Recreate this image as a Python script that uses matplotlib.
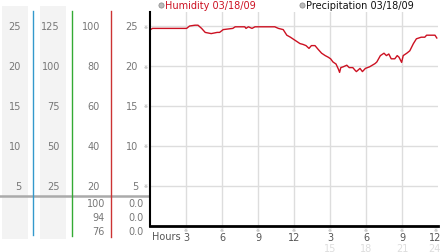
import numpy as np
import matplotlib.pyplot as plt

# humidity trace
hours = [0, 0.2, 3.05, 3.3, 3.75, 4.0, 4.3, 4.6, 5.1, 5.6, 5.8, 6.1, 6.9, 7.1, 7.9,
         8.0, 8.2, 8.5, 8.75, 10.4, 10.7, 11.1, 11.4, 11.7, 11.9, 12.2, 12.5, 12.75,
         13.0, 13.25, 13.45, 13.75, 14.0, 14.3, 14.6, 14.85, 15.05, 15.25, 15.5, 15.7,
         15.8, 15.9, 16.1, 16.4, 16.6, 16.9, 17.1, 17.2, 17.5, 17.7, 17.95, 18.3,
         18.75, 18.9, 19.2, 19.5, 19.7, 19.9, 20.1, 20.4, 20.6, 20.75, 20.97, 21.1,
         21.4, 21.65, 21.95, 22.2, 22.6, 22.9, 23.05, 23.75, 23.9]
humidity = [24.5, 24.7, 24.7, 25.0, 25.1, 25.1, 24.7, 24.2, 24.05, 24.2, 24.2, 24.55,
            24.7, 24.9, 24.9, 24.7, 24.9, 24.7, 24.9, 24.9, 24.7, 24.55, 23.85, 23.6,
            23.4, 23.1, 22.8, 22.7, 22.55, 22.2, 22.55, 22.55, 22.1, 21.6, 21.3, 21.1,
            20.9, 20.5, 20.25, 19.6, 19.2, 19.8, 19.9, 20.1, 19.8, 19.8, 19.45, 19.3,
            19.7, 19.3, 19.7, 19.9, 20.3, 20.5, 21.3, 21.6, 21.3, 21.5, 20.9, 20.9,
            21.3, 21.1, 20.45, 21.3, 21.6, 21.9, 22.8, 23.4, 23.6, 23.6, 23.85, 23.85,
            23.5]

hour_ticks = [3, 6, 9, 12, 15, 18, 21, 24]
hour_labels = ['3', '6', '9', '12', '3', '6', '9', '12']
hour_labels2 = ['', '', '', '', '15', '18', '21', '24']

scale_vals = [25, 20, 15, 10, 5]
col1 = ['25', '20', '15', '10', '5']
col2 = ['125', '100', '75', '50', '25']
col3 = ['100', '80', '60', '40', '20']
col4 = ['25', '20', '15', '10', '5']
col3_low = ['100', '94', '76']
col4_low = ['0.0', '0.0', '0.0']

W, H = 442, 253
fig = plt.figure(figsize=(W / 100, H / 100), dpi=100)
fig.patch.set_facecolor('white')

# overlay in pixel coords for the side panel
ov = fig.add_axes([0, 0, 1, 1])
ov.set_xlim(0, W)
ov.set_ylim(H, 0)
ov.axis('off')

def py(v):
    return 227 - 8 * v

txt = dict(fontsize=7, color='#777777', va='center')
ov.fill_between([2, 28], 7, 240, color='#f3f3f3', lw=0)
ov.fill_between([40, 66], 7, 240, color='#f3f3f3', lw=0)
ov.plot([0, 149], [197, 197], color='#aaaaaa', lw=1.8)
ov.plot([33, 33], [12, 236], color='#3399cc', lw=1)
ov.plot([72, 72], [12, 237], color='#33aa33', lw=1)
ov.plot([111, 111], [12, 238], color='#cc3333', lw=1)

for v, a, b, c, d in zip(scale_vals, col1, col2, col3, col4):
    ov.text(21, py(v), a, ha='right', **txt)
    ov.text(60, py(v), b, ha='right', **txt)
    ov.text(100, py(v), c, ha='right', **txt)
    ov.text(138, py(v), d, ha='right', **txt)
    ov.text(146, py(v), '※', ha='center', fontsize=3.5, color='#999999', va='center')

for yy, c, d in zip([204, 218, 232], col3_low, col4_low):
    ov.text(105, yy, c, ha='right', **txt)
    ov.text(144, yy, d, ha='right', **txt)

# legend
ov.scatter([161, 302], [6, 6], s=14, color='#bbbbbb', edgecolors='#888888', lw=0.5)
ov.text(165, 6, 'Humidity 03/18/09', fontsize=7, color='#cc1122', va='center')
ov.text(306, 6, 'Precipitation 03/18/09', fontsize=7, color='#111111', va='center')

# main plot
ax = fig.add_axes([150 / W, (H - 227) / H, 288 / W, 214 / H])
ax.set_xlim(0, 24)
ax.set_ylim(0, 26.75)
ax.set_facecolor('none')
for v in scale_vals:
    ax.axhline(v, color='#dddddd', lw=1, zorder=0)
for h in hour_ticks[:-1]:
    ax.axvline(h, color='#dddddd', lw=1, zorder=0)
ax.plot(hours, humidity, color='#cc1122', lw=1)
for s in ['top', 'right']:
    ax.spines[s].set_visible(False)
ax.spines['left'].set_linewidth(1.5)
ax.spines['bottom'].set_linewidth(2)
ax.set_xticks([])
ax.set_yticks([])

ov.text(152, 237, 'Hours', fontsize=7, color='#555555', va='center')
for h, a, b in zip(hour_ticks, hour_labels, hour_labels2):
    x = 150 + 12 * h
    ha = 'center'
    if h == hour_ticks[-1]:
        x, ha = 441, 'right'
    ov.text(150 + 12 * h - (2 if ha == 'right' else 0), 231, '※', ha='center',
            fontsize=3.5, color='#999999', va='center')
    ov.text(x, 238, a, ha=ha, fontsize=7, color='#555555', va='center')
    ov.text(x, 249, b, ha=ha, fontsize=7, color='#dddddd', va='center')

fig.savefig('out.png', dpi=100)
